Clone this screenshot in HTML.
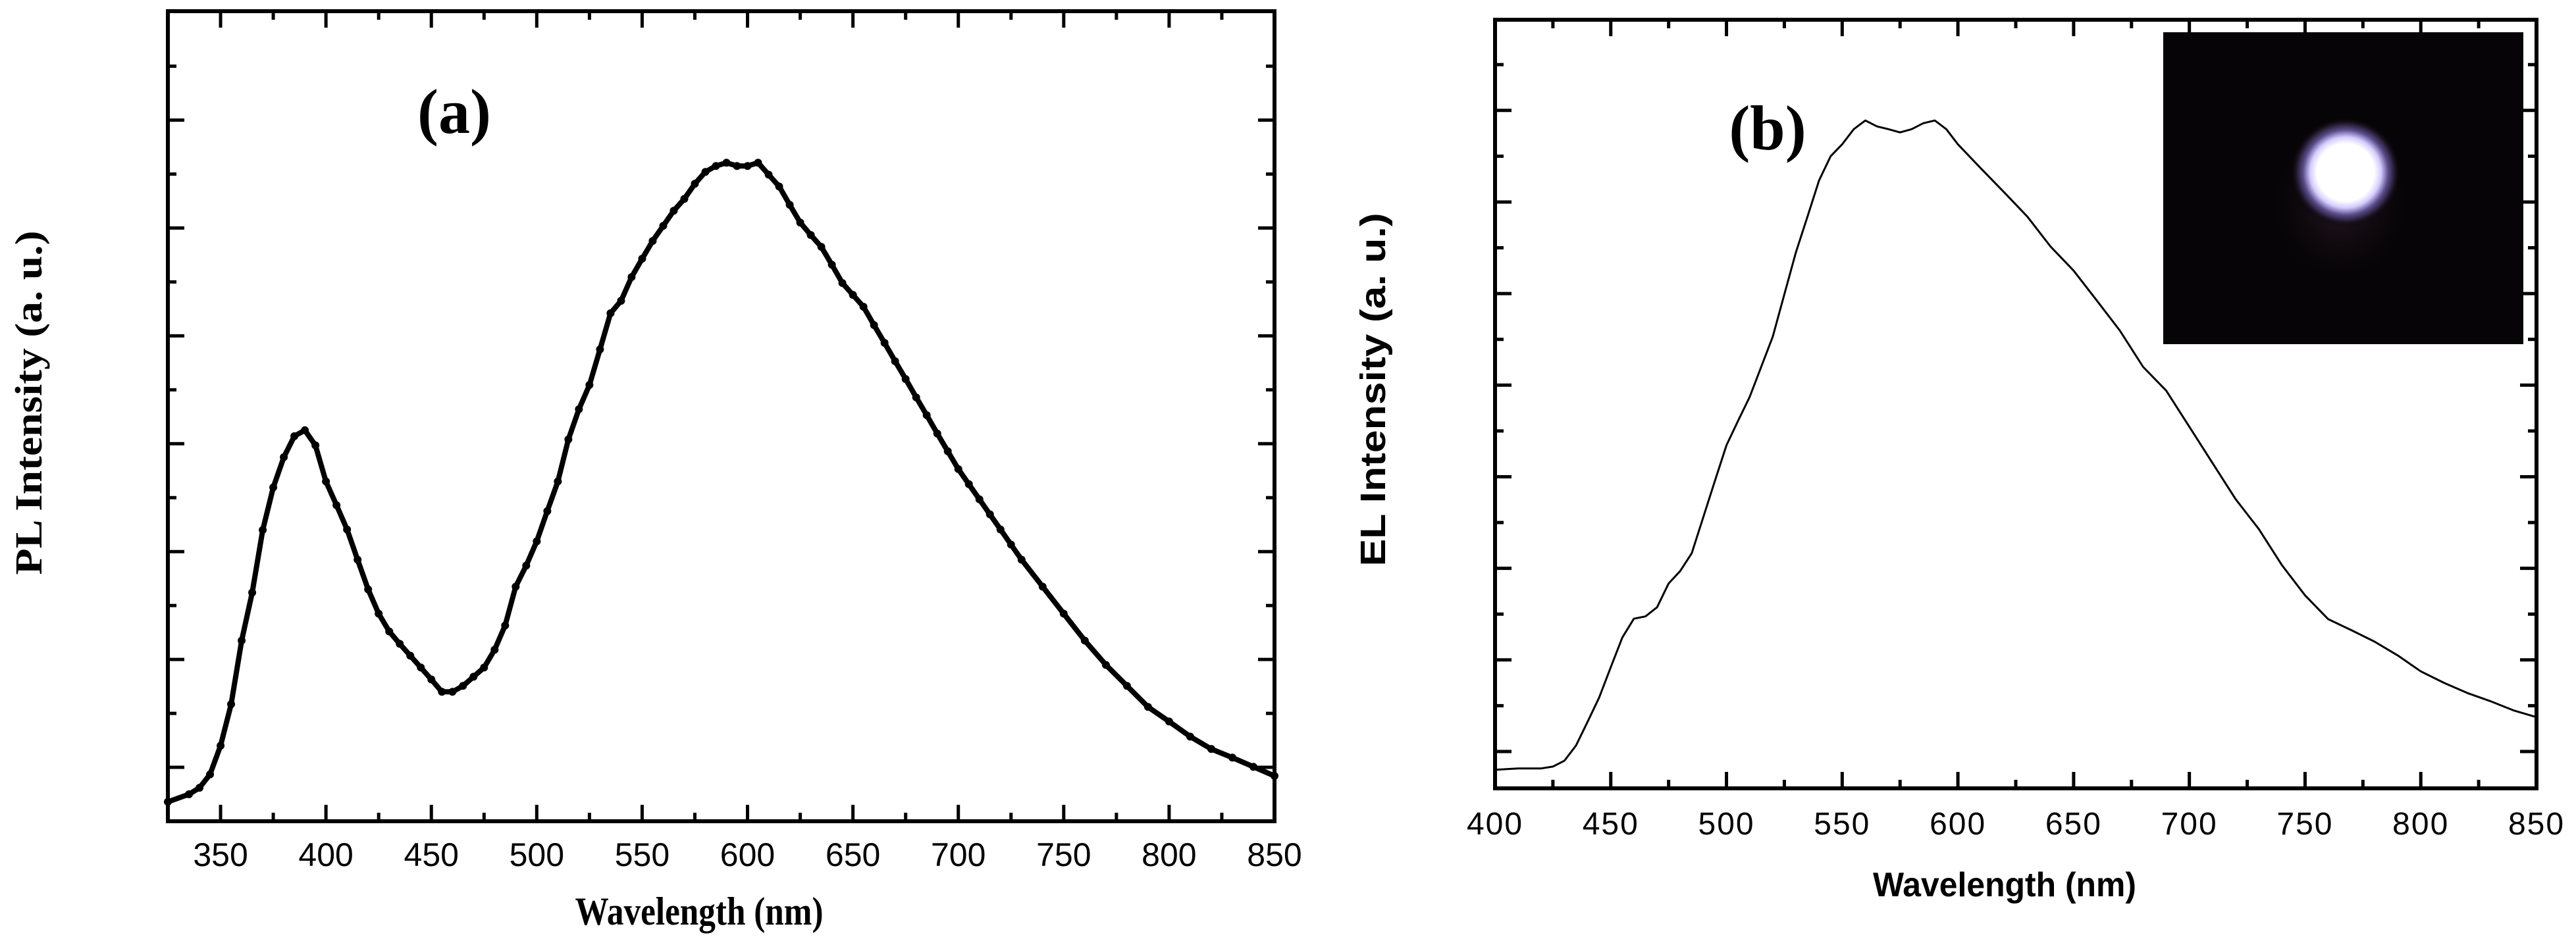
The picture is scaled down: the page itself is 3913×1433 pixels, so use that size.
<!DOCTYPE html>
<html><head><meta charset="utf-8"><style>
html,body{margin:0;padding:0;background:#fff;}
svg{display:block;}
</style></head><body>
<svg id="fig" width="3913" height="1433" viewBox="0 0 3913 1433" xmlns="http://www.w3.org/2000/svg">
<defs>
<radialGradient id="glow" cx="50%" cy="50%" r="50%">
<stop offset="0" stop-color="#ffffff"/>
<stop offset="0.52" stop-color="#ffffff"/>
<stop offset="0.64" stop-color="#d4ccff"/>
<stop offset="0.77" stop-color="#5a4c8a"/>
<stop offset="0.9" stop-color="#1c1424"/>
<stop offset="1" stop-color="#050305" stop-opacity="0"/>
</radialGradient>
<radialGradient id="glow2" cx="50%" cy="50%" r="50%">
<stop offset="0" stop-color="#2a1a26"/>
<stop offset="1" stop-color="#050305" stop-opacity="0"/>
</radialGradient>
</defs>
<g id="panelA"></g>
<g id="panelB"></g>
</svg>
<script>
// Panel (a) PL data
const plWavelength = [325,335,340,345,350,355,360,365,370,375,380,385,390,395,400,405,410,415,420,425,430,435,440,445,450,455,460,465,470,475,480,485,490,495,500,505,510,515,520,525,530,535,540,545,550,555,560,565,570,575,580,585,590,595,600,605,610,615,620,625,630,635,640,645,650,655,660,665,670,675,680,685,690,695,700,705,710,715,720,725,730,740,750,760,770,780,790,800,810,820,830,840,850];
const plIntensity = [0.36,0.5,0.62,0.87,1.4,2.17,3.35,4.24,5.4,6.19,6.75,7.14,7.25,6.97,6.3,5.86,5.41,4.85,4.3,3.85,3.52,3.29,3.07,2.85,2.63,2.4,2.4,2.51,2.68,2.85,3.18,3.63,4.35,4.74,5.19,5.75,6.3,7.08,7.64,8.09,8.75,9.42,9.65,10.09,10.43,10.76,11.04,11.32,11.54,11.82,12.04,12.15,12.21,12.15,12.15,12.21,11.99,11.77,11.43,11.1,10.87,10.65,10.32,9.98,9.76,9.54,9.2,8.87,8.53,8.2,7.86,7.53,7.19,6.86,6.53,6.25,5.97,5.69,5.41,5.13,4.85,4.35,3.85,3.35,2.9,2.51,2.12,1.85,1.57,1.34,1.18,1.01,0.84];
const plXTicks = [350,400,450,500,550,600,650,700,750,800,850];
// Panel (b) EL data
const elWavelength = [400,410,420,425,430,435,440,445,450,455,460,465,470,475,480,485,490,495,500,505,510,515,520,525,530,535,540,545,550,555,560,565,570,575,580,585,590,595,600,610,620,630,640,650,660,670,680,690,700,710,720,730,740,750,760,770,780,790,800,810,820,830,840,850];
const elIntensity = [0.6,0.63,0.63,0.67,0.8,1.13,1.65,2.18,2.84,3.49,3.9,3.95,4.15,4.67,4.94,5.33,6.12,6.91,7.69,8.22,8.74,9.4,10.06,10.98,11.9,12.68,13.47,14.0,14.26,14.59,14.78,14.65,14.59,14.52,14.59,14.72,14.78,14.59,14.26,13.73,13.21,12.68,12.03,11.5,10.85,10.19,9.4,8.88,8.09,7.3,6.51,5.86,5.07,4.41,3.89,3.65,3.4,3.1,2.75,2.5,2.28,2.1,1.9,1.75];
const elXTicks = [400,450,500,550,600,650,700,750,800,850];

const NS="http://www.w3.org/2000/svg";
function mk(tag, attrs, parent){const e=document.createElementNS(NS,tag);for(const k in attrs)e.setAttribute(k,attrs[k]);parent.appendChild(e);return e;}

function drawPanel(g, cfg){
  const xs = v => cfg.left + (v-cfg.xmin)/(cfg.xmax-cfg.xmin)*(cfg.right-cfg.left);
  const ys = v => cfg.bottom - (v-cfg.ymin)/(cfg.ymax-cfg.ymin)*(cfg.bottom-cfg.top);
  for(let v=cfg.xmin; v<=cfg.xmax+0.01; v+=25){
    if (v % 25 !== 0) continue;
    const major = v%50===0; const L = major?cfg.tmaj:cfg.tmin; const x=xs(v);
    if (x<=cfg.left+2||x>=cfg.right-2) continue;
    const t1=mk('line',{x1:x,x2:x,y1:cfg.bottom,y2:cfg.bottom-L,stroke:'#000','stroke-width':cfg.tw},g);
    
    
    const t2=mk('line',{x1:x,x2:x,y1:cfg.top,y2:cfg.top+L,stroke:'#000','stroke-width':cfg.tw},g);
    
    
  }
  for(let i=1;i<=cfg.nyt;i++){
    const y=ys(i); const major=(i%2===1); const L=major?cfg.tmaj:cfg.tmin;
    const a=mk('line',{x1:cfg.left,x2:cfg.left+L,y1:y,y2:y,stroke:'#000','stroke-width':cfg.tw},g);
    
    
    const b=mk('line',{x1:cfg.right,x2:cfg.right-L,y1:y,y2:y,stroke:'#000','stroke-width':cfg.tw},g);
    
    
  }
  cfg.xticks.forEach(v=>{
    const t=mk('text',{x:xs(v),y:cfg.labelY,'text-anchor':'middle','font-family':'Liberation Sans, Arial, sans-serif','font-size':cfg.labelSize,'letter-spacing':cfg.ls||0},g);
    t.textContent=v;
    
    
  });
  if(cfg.inset) cfg.inset(g);
  const pts=cfg.xd.map((v,i)=>xs(v).toFixed(1)+','+ys(cfg.yd[i]).toFixed(1)).join(' ');
  const line=mk('polyline',{points:pts,fill:'none',stroke:'#000','stroke-width':cfg.lw,'stroke-linejoin':'round'},g);
  
  
  if(cfg.dots){
    cfg.xd.forEach((v,i)=>{
      const c=mk('circle',{cx:xs(v),cy:ys(cfg.yd[i]),r:6,fill:'#000'},g);
      
      
    });
  }
  const fr=mk('rect',{x:cfg.left,y:cfg.top,width:cfg.right-cfg.left,height:cfg.bottom-cfg.top,fill:'none',stroke:'#000','stroke-width':cfg.fw},g);
  
  
}

const gA=document.getElementById('panelA');
drawPanel(gA,{left:255,right:1936,top:17,bottom:1248,xmin:325,xmax:850,ymin:0,ymax:15.02,nyt:14,
  tmaj:25,tmin:13,tw:5,fw:6,lw:8,dots:true,xticks:plXTicks,xd:plWavelength,yd:plIntensity,labelY:1316,labelSize:50});
const gB=document.getElementById('panelB');
drawPanel(gB,{left:2271,right:3853,top:30,bottom:1198,xmin:400,xmax:850,ymin:0.195,ymax:16.98,nyt:16,
  tmaj:25,tmin:13,tw:5,fw:6,lw:3,dots:false,xticks:elXTicks,xd:elWavelength,yd:elIntensity,labelY:1268,labelSize:48,ls:2,
  inset:function(g){
    const r=mk('rect',{x:3286,y:49,width:547,height:474,fill:'#060406'},g);
    
    
    const h=mk('ellipse',{cx:3555,cy:310,rx:120,ry:130,fill:'url(#glow2)'},g);
    
    
    const s=mk('ellipse',{cx:3563,cy:262,rx:84,ry:84,fill:'url(#glow)'},g);
    
    
  }});
</script>
<svg style="position:absolute;left:0;top:0" width="3913" height="1433" xmlns="http://www.w3.org/2000/svg">
<text x="690" y="202" text-anchor="middle" font-family="Liberation Serif, serif" font-weight="bold" font-size="96">(a)</text>
<text x="1062" y="1405" text-anchor="middle" font-family="Liberation Serif, serif" font-weight="bold" font-size="60" textLength="377" lengthAdjust="spacingAndGlyphs">Wavelength (nm)</text>
<text transform="translate(63,612) rotate(-90)" text-anchor="middle" font-family="Liberation Serif, serif" font-weight="bold" font-size="58" textLength="523" lengthAdjust="spacingAndGlyphs">PL Intensity (a. u.)</text>
<text x="2685" y="227" text-anchor="middle" font-family="Liberation Serif, serif" font-weight="bold" font-size="96">(b)</text>
<text x="3045" y="1362" text-anchor="middle" font-family="Liberation Sans, Arial, sans-serif" font-weight="bold" font-size="52" textLength="400" lengthAdjust="spacingAndGlyphs">Wavelength (nm)</text>
<text transform="translate(2104,592) rotate(-90)" text-anchor="middle" font-family="Liberation Sans, Arial, sans-serif" font-weight="bold" font-size="54" textLength="537" lengthAdjust="spacingAndGlyphs">EL Intensity (a. u.)</text>
</svg>
</body></html>
